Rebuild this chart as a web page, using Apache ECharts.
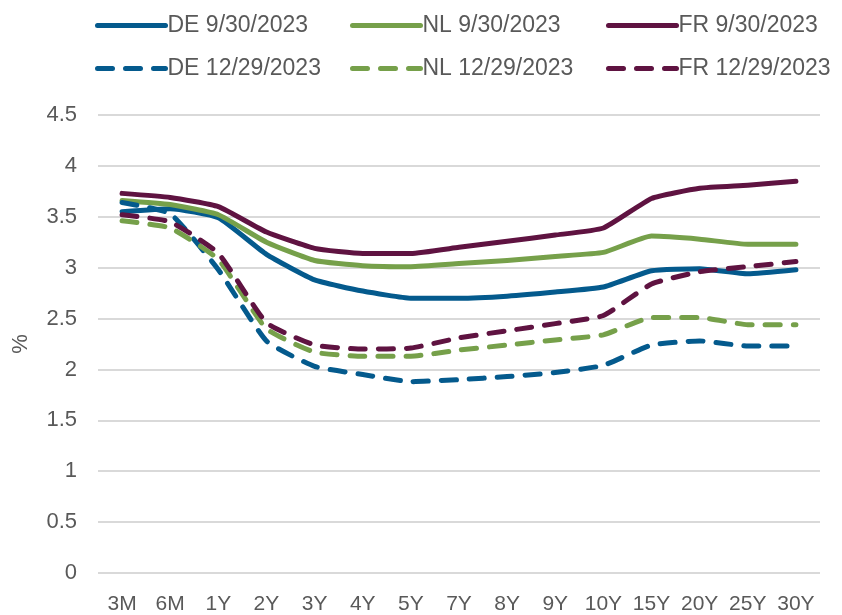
<!DOCTYPE html>
<html>
<head>
<meta charset="utf-8">
<script src="https://cdn.jsdelivr.net/npm/echarts@6/dist/echarts.min.js"></script>
<style>
  html, body { margin: 0; padding: 0; background: #fff; }
  #chart { width: 842px; height: 615px; }
</style>
</head>
<body>
<div id="chart"></div>
<script>
// tenors on the x axis
const tenors = ['3M', '6M', '1Y', '2Y', '3Y', '4Y', '5Y', '7Y', '8Y', '9Y', '10Y', '15Y', '20Y', '25Y', '30Y'];

// yields (%)
const de0930 = [3.55, 3.58, 3.49, 3.13, 2.88, 2.77, 2.70, 2.70, 2.72, 2.76, 2.81, 2.97, 2.99, 2.94, 2.98];
const nl0930 = [3.66, 3.62, 3.52, 3.25, 3.07, 3.02, 3.01, 3.04, 3.07, 3.11, 3.15, 3.31, 3.28, 3.23, 3.23];
const fr0930 = [3.73, 3.69, 3.60, 3.35, 3.19, 3.14, 3.14, 3.20, 3.26, 3.32, 3.39, 3.68, 3.78, 3.81, 3.85];
const de1229 = [3.64, 3.53, 2.98, 2.28, 2.03, 1.95, 1.88, 1.90, 1.93, 1.97, 2.04, 2.24, 2.28, 2.23, 2.23];
const nl1229 = [3.46, 3.39, 3.08, 2.40, 2.17, 2.13, 2.13, 2.19, 2.24, 2.29, 2.34, 2.51, 2.51, 2.44, 2.44];
const fr1229 = [3.52, 3.45, 3.14, 2.46, 2.24, 2.20, 2.21, 2.31, 2.38, 2.45, 2.53, 2.84, 2.96, 3.01, 3.06];

const yTicks = { min: 0, max: 4.5, interval: 0.5 };

const BLUE = '#045a8d', GREEN = '#76a04a', WINE = '#5f1341';
const TXT = '#595959';
const FONT = '"Liberation Sans", Arial, sans-serif';

function mkLine(name, data, color, dashed) {
    return {
        name: name,
        type: 'line',
        data: data,
        symbol: 'none',
        smooth: 0.15,
        lineStyle: {
            color: color,
            width: 5,
            type: dashed ? [15, 13] : 'solid',
            cap: 'round',
            join: 'round'
        },
        itemStyle: { color: color }
    };
}

// one legend per column so the two rows line up
function mkLegend(left, names) {
    return {
        orient: 'vertical',
        left: left,
        top: 9,
        itemWidth: 68,
        itemHeight: 14,
        itemGap: 20,
        data: names,
        textStyle: { color: TXT, fontSize: 23, fontFamily: FONT, padding: [0, 0, 0, -3] },
        lineStyle: { width: 5 },
        itemStyle: { opacity: 0 }   // hide the little circle, keep the line
    };
}

const chart = echarts.init(document.getElementById('chart'), null, { renderer: 'canvas' });

chart.setOption({
    animation: false,
    backgroundColor: '#fff',
    legend: [
        mkLegend(90, ['DE 9/30/2023', 'DE 12/29/2023']),
        mkLegend(345, ['NL 9/30/2023', 'NL 12/29/2023']),
        mkLegend(601, ['FR 9/30/2023', 'FR 12/29/2023'])
    ],
    grid: { left: 98, right: 22, top: 115, bottom: 41 },
    xAxis: {
        type: 'category',
        data: tenors,
        boundaryGap: true,
        axisLine: { show: false },
        axisTick: { show: false },
        axisLabel: { color: TXT, fontSize: 21, fontFamily: FONT, margin: 21, interval: 0 }
    },
    yAxis: {
        type: 'value',
        min: yTicks.min,
        max: yTicks.max,
        interval: yTicks.interval,
        name: '%',
        nameLocation: 'middle',
        nameRotate: 90,
        nameGap: 66,
        nameTextStyle: { color: TXT, fontSize: 22, fontFamily: FONT },
        axisLine: { show: false },
        axisTick: { show: false },
        axisLabel: { color: TXT, fontSize: 22, fontFamily: FONT, margin: 21 },
        splitLine: { lineStyle: { color: '#d9d9d9', width: 2 } }
    },
    series: [
        mkLine('DE 9/30/2023', de0930, BLUE, false),
        mkLine('NL 9/30/2023', nl0930, GREEN, false),
        mkLine('FR 9/30/2023', fr0930, WINE, false),
        mkLine('DE 12/29/2023', de1229, BLUE, true),
        mkLine('NL 12/29/2023', nl1229, GREEN, true),
        mkLine('FR 12/29/2023', fr1229, WINE, true)
    ]
});
</script>
</body>
</html>
